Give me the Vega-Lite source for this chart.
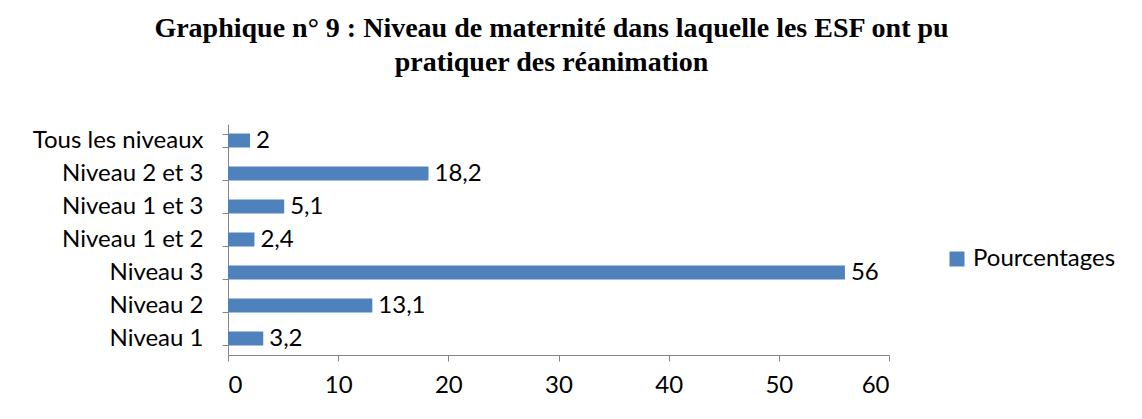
{
  "$schema": "https://vega.github.io/schema/vega-lite/v6.json",
  "width": 661,
  "height": 231,
  "autosize": {"type": "none"},
  "padding": {"left": 228, "top": 124, "right": 253, "bottom": 64},
  "background": "white",
  "title": {
    "text": ["Graphique n° 9 : Niveau de maternité dans laquelle les ESF ont pu", "pratiquer des réanimation"],
    "font": "Liberation Serif",
    "fontSize": 28,
    "fontWeight": "bold",
    "color": "black",
    "anchor": "middle",
    "dx": -7,
    "offset": 35,
    "lineHeight": 34
  },
  "data": {
    "values": [
      {"niveau": "Tous les niveaux", "pct": 2, "label": "2"},
      {"niveau": "Niveau 2 et 3", "pct": 18.2, "label": "18,2"},
      {"niveau": "Niveau 1 et 3", "pct": 5.1, "label": "5,1"},
      {"niveau": "Niveau 1 et 2", "pct": 2.4, "label": "2,4"},
      {"niveau": "Niveau 3", "pct": 56, "label": "56"},
      {"niveau": "Niveau 2", "pct": 13.1, "label": "13,1"},
      {"niveau": "Niveau 1", "pct": 3.2, "label": "3,2"}
    ]
  },
  "encoding": {
    "y": {
      "field": "niveau",
      "type": "nominal",
      "sort": ["Tous les niveaux", "Niveau 2 et 3", "Niveau 1 et 3", "Niveau 1 et 2", "Niveau 3", "Niveau 2", "Niveau 1"],
      "scale": {"paddingInner": 0.576, "paddingOuter": 0.288},
      "axis": {
        "title": null,
        "tickBand": "extent",
        "tickSize": 6,
        "tickColor": "#868686",
        "domainColor": "#868686",
        "labelPadding": 19,
        "labelFont": "Lato",
        "labelFontSize": 24,
        "labelColor": "black",
        "labelLimit": 300
      }
    },
    "x": {
      "field": "pct",
      "type": "quantitative",
      "scale": {"domain": [0, 60], "nice": false},
      "axis": {
        "title": null,
        "values": [0, 10, 20, 30, 40, 50, 60],
        "grid": false,
        "tickSize": 6,
        "tickColor": "#868686",
        "domainColor": "#868686",
        "labelPadding": 12,
        "labelFont": "Lato",
        "labelFontSize": 24,
        "labelColor": "black"
      }
    }
  },
  "layer": [
    {
      "mark": {"type": "bar", "color": "#4F81BD"},
      "encoding": {
        "color": {
          "datum": "Pourcentages",
          "scale": {"range": ["#4F81BD"]},
          "legend": {
            "title": null,
            "orient": "none",
            "legendX": 717,
            "legendY": 123,
            "symbolType": "square",
            "symbolSize": 225,
            "symbolStrokeWidth": 0,
            "labelFont": "Lato",
            "labelFontSize": 24,
            "labelColor": "black",
            "labelOffset": 4
          }
        }
      }
    },
    {
      "mark": {"type": "text", "align": "left", "baseline": "middle", "dx": 6, "font": "Lato", "fontSize": 24, "color": "black"},
      "encoding": {"text": {"field": "label"}}
    }
  ],
  "config": {"view": {"stroke": null}}
}
